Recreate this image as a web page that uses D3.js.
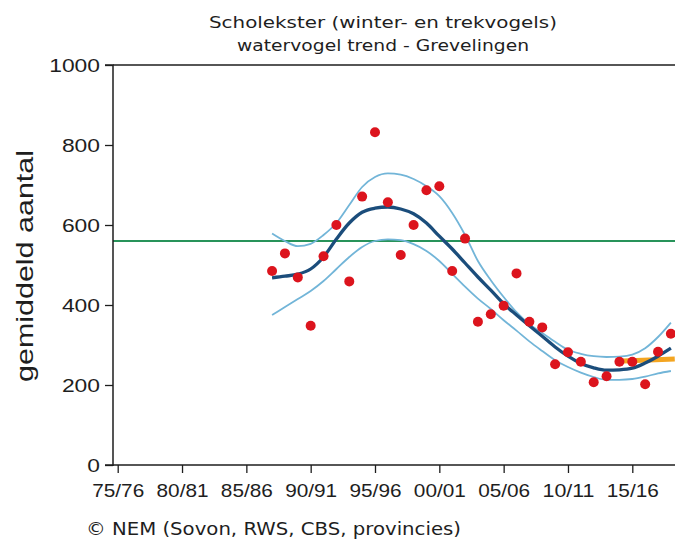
<!DOCTYPE html>
<html>
<head>
<meta charset="utf-8">
<script src="https://cdn.jsdelivr.net/npm/d3@7"></script>
<style>
  html, body { margin: 0; padding: 0; background: #fff; }
  svg { display: block; }
</style>
</head>
<body>
<svg id="chart" width="675" height="547"></svg>
<script>
// ---- data ----
const years = [1987,1988,1989,1990,1991,1992,1993,1994,1995,1996,1997,1998,1999,2000,2001,2002,
               2003,2004,2005,2006,2007,2008,2009,2010,2011,2012,2013,2014,2015,2016,2017,2018];
const counts = [485,529,469,348,522,600,459,671,832,657,525,600,687,697,485,566,
                358,377,398,479,358,344,252,282,258,207,222,258,258,202,283,328];
const trend = [468,472,477,490,520,565,605,632,642,645,640,628,605,572,540,505,
               470,437,403,375,348,322,295,272,254,243,237,238,242,255,272,292];
const upper = [579,560,547,553,575,605,650,695,720,729,726,715,697,672,630,575,
               510,462,420,382,352,330,308,288,278,272,270,271,276,292,320,356];
const lower = [375,395,415,435,460,490,520,545,560,564,562,552,535,510,478,446,
               416,390,362,336,309,285,262,245,231,220,213,213,215,221,229,235];
const recentYears = [2014.3, 2018.3];
const recentTrend = [260, 265];
const referenceLevel = 560;
const tickYears = [1975,1980,1985,1990,1995,2000,2005,2010,2015];
const tickLabels = ["75/76","80/81","85/86","90/91","95/96","00/01","05/06","10/11","15/16"];
const yTicks = [0,200,400,600,800,1000];
const titleLines = ["Scholekster (winter- en trekvogels)", "watervogel trend - Grevelingen"];
const yTitle = "gemiddeld aantal";
const footer = "© NEM (Sovon, RWS, CBS, provincies)";

// ---- layout ----
const svg = d3.select("#chart");
const axisX = 113, plotTop = 65, plotBottom = 465, plotRight = 675;
const x = d3.scaleLinear().domain([1975, 2015]).range([117.7, 632.3]);
const y = d3.scaleLinear().domain([0, 1000]).range([plotBottom, plotTop]);

const axisFont = "'Liberation Sans', Arial, sans-serif";
const titleFont = "'DejaVu Sans', Verdana, sans-serif";
const ink = "#1e1e1e";

// title
svg.append("text").attr("x", 383).attr("y", 28).attr("text-anchor", "middle")
  .attr("font-family", titleFont).attr("font-size", 16.5).attr("fill", ink)
  .attr("textLength", 348).attr("lengthAdjust", "spacingAndGlyphs").text(titleLines[0]);
svg.append("text").attr("x", 383).attr("y", 51).attr("text-anchor", "middle")
  .attr("font-family", titleFont).attr("font-size", 16.5).attr("fill", ink)
  .attr("textLength", 292).attr("lengthAdjust", "spacingAndGlyphs").text(titleLines[1]);

// frame top line
svg.append("line").attr("x1", axisX).attr("x2", plotRight).attr("y1", plotTop).attr("y2", plotTop)
  .attr("stroke", ink).attr("stroke-width", 1.5);

// green reference line
svg.append("line").attr("x1", axisX).attr("x2", plotRight)
  .attr("y1", y(referenceLevel)).attr("y2", y(referenceLevel))
  .attr("stroke", "#28935a").attr("stroke-width", 2);

// y axis
const yAxis = d3.axisLeft(y).tickValues(yTicks).tickSize(8).tickPadding(5).tickFormat(d3.format("d"));
const gy = svg.append("g").attr("transform", `translate(${axisX},0)`).call(yAxis);
gy.select(".domain").attr("stroke", ink).attr("stroke-width", 1.5).attr("d", `M-8,${plotTop}H0V${plotBottom + 1}`);
gy.selectAll(".tick line").attr("stroke", ink).attr("stroke-width", 1.3);
gy.selectAll(".tick text").attr("font-family", axisFont).attr("font-size", 19).attr("fill", ink)
  .attr("textLength", d => String(d).length * 12.7).attr("lengthAdjust", "spacingAndGlyphs");

// x axis
const xAxis = d3.axisBottom(x).tickValues(tickYears).tickSize(8).tickPadding(11)
  .tickFormat((d, i) => tickLabels[i]);
const gx = svg.append("g").attr("transform", `translate(0,${plotBottom})`).call(xAxis);
gx.select(".domain").attr("stroke", ink).attr("stroke-width", 1.5).attr("d", `M${axisX - 8},0H${plotRight}`);
gx.selectAll(".tick line").attr("stroke", ink).attr("stroke-width", 1.3);
gx.selectAll(".tick text").attr("font-family", axisFont).attr("font-size", 19).attr("fill", ink)
  .attr("textLength", 52).attr("lengthAdjust", "spacingAndGlyphs");

// y title
svg.append("text").attr("transform", "translate(33,266) rotate(-90)").attr("text-anchor", "middle")
  .attr("font-family", axisFont).attr("font-size", 24).attr("fill", ink)
  .attr("textLength", 232).attr("lengthAdjust", "spacingAndGlyphs")
  .text(yTitle);

// footer
svg.append("text").attr("x", 86).attr("y", 535)
  .attr("font-family", titleFont).attr("font-size", 17).attr("fill", ink)
  .attr("textLength", 375).attr("lengthAdjust", "spacingAndGlyphs").text(footer);

// lines
const line = vals => d3.line().curve(d3.curveMonotoneX)
  .x((d, i) => x(years[i])).y(d => y(d))(vals);

svg.append("path").attr("d", line(upper)).attr("fill", "none")
  .attr("stroke", "#72b5d8").attr("stroke-width", 1.8);
svg.append("path").attr("d", line(lower)).attr("fill", "none")
  .attr("stroke", "#72b5d8").attr("stroke-width", 1.8);

// recent orange trend
svg.append("path")
  .attr("d", d3.line().x((d, i) => x(recentYears[i])).y(d => y(d))(recentTrend))
  .attr("fill", "none").attr("stroke", "#f4a521").attr("stroke-width", 5);

svg.append("path").attr("d", line(trend)).attr("fill", "none")
  .attr("stroke", "#1b4d7b").attr("stroke-width", 3.3);

// dots
svg.append("g").selectAll("circle").data(counts).join("circle")
  .attr("cx", (d, i) => x(years[i])).attr("cy", d => y(d)).attr("r", 5)
  .attr("fill", "#dc141d");
</script>
</body>
</html>
